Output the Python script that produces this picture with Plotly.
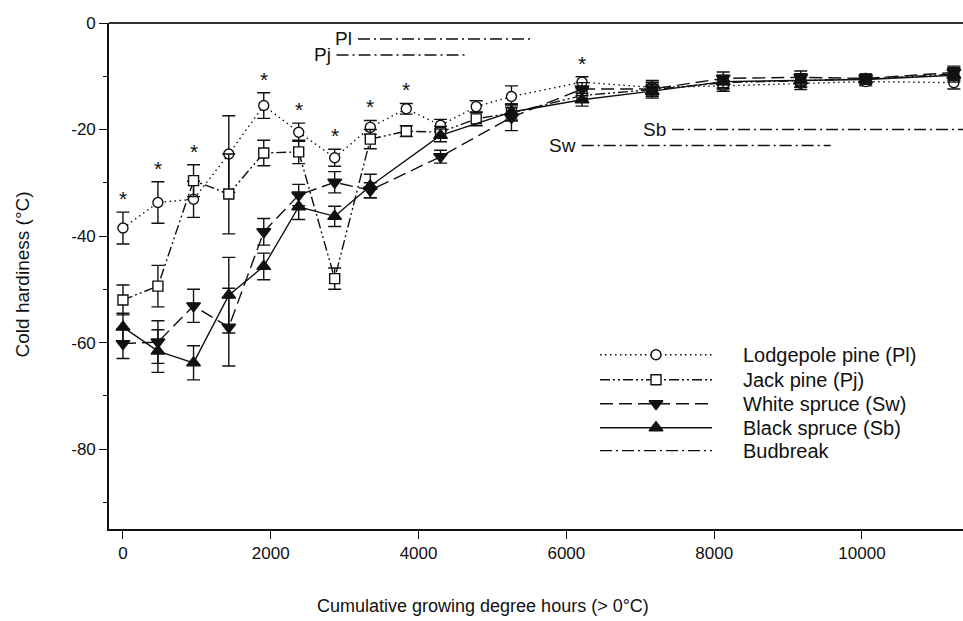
import plotly.graph_objects as go

# Sampling times (cumulative growing degree hours > 0 °C)
gdh_pine = [0, 473, 955, 1432, 1905, 2378, 2865, 3347, 3834, 4297, 4780, 5257,
            6212, 7162, 8122, 9171, 10050, 11243]
gdh_spruce = [0, 473, 955, 1432, 1905, 2378, 2865, 3347, 4297, 5257,
              6212, 7162, 8122, 9171, 10050, 11243]

# Cold hardiness (°C) and standard errors
pl_mean = [-38.5, -33.7, -33.1, -24.6, -15.5, -20.5, -25.3, -19.6, -16.1, -19.2, -15.7, -13.8,
           -11.1, -12.1, -11.8, -11.3, -11.0, -11.2]
pl_se = [3.0, 3.9, 3.4, 7.2, 2.4, 1.7, 1.6, 1.3, 1.0, 1.1, 1.1, 2.0,
         1.0, 1.3, 1.0, 1.2, 0.8, 1.2]
pj_mean = [-52.0, -49.4, -29.6, -32.1, -24.4, -24.2, -48.0, -21.8, -20.3, -20.5, -18.0, -16.9,
           -13.6, -12.5, -11.2, -10.8, -10.5, -9.6]
pj_se = [2.8, 3.9, 3.0, 7.5, 2.4, 2.2, 2.0, 1.8, 1.0, 1.1, 1.3, 1.5,
         1.2, 1.3, 1.2, 1.2, 0.8, 1.2]
sw_mean = [-60.2, -59.9, -53.1, -57.1, -39.2, -32.3, -29.9, -31.4, -25.1, -17.7,
           -12.4, -12.4, -10.4, -10.2, -10.4, -9.3]
sw_se = [2.8, 4.0, 3.1, 7.3, 2.5, 2.0, 2.0, 1.4, 1.2, 2.5,
         1.2, 1.3, 1.2, 1.2, 0.8, 1.2]
sb_mean = [-57.1, -61.6, -63.8, -51.1, -45.7, -34.5, -36.3, -30.6, -21.1, -16.7,
           -14.4, -12.8, -11.0, -10.8, -10.6, -9.8]
sb_se = [2.6, 4.0, 3.2, 7.1, 2.5, 2.4, 1.9, 2.2, 1.2, 1.5,
         1.2, 1.3, 1.2, 1.3, 0.9, 1.3]

# Sampling dates with significant species differences (index into gdh_pine)
signif_idx = [0, 1, 2, 4, 5, 6, 7, 8, 12]

# Budbreak periods: label, start, end, level on the hardiness axis
bud_labels = ["Pl", "Pj", "Sb", "Sw"]
bud_start = [3180, 2890, 7430, 6207]
bud_end = [5510, 4650, 12000, 9577]
bud_level = [-3, -6, -20, -23]

x_ticks = [0, 2000, 4000, 6000, 8000, 10000]
x_tick_text = ["0", "2000", "4000", "6000", "8000", "10000"]
y_ticks = [0, -20, -40, -60, -80]
y_tick_text = ["0", "-20", "-40", "-60", "-80"]

FONT = "Arial, Liberation Sans, sans-serif"
INK = "#111111"
LW = 1.4

series = [
    dict(name="Lodgepole pine (Pl)", x=gdh_pine, y=pl_mean, e=pl_se,
         dash="1.5px,3.5px", symbol="circle", fill="white", size=10),
    dict(name="Jack pine (Pj)", x=gdh_pine, y=pj_mean, e=pj_se,
         dash="10px,3px,2px,3px,2px,3px", symbol="square", fill="white", size=10),
    dict(name="White spruce (Sw)", x=gdh_spruce, y=sw_mean, e=sw_se,
         dash="13px,6px", symbol="triangle-down", fill=INK, size=12),
    dict(name="Black spruce (Sb)", x=gdh_spruce, y=sb_mean, e=sb_se,
         dash="solid", symbol="triangle-up", fill=INK, size=12),
]

fig = go.Figure()

# Budbreak bars
for lab, x0, x1, lev in zip(bud_labels, bud_start, bud_end, bud_level):
    fig.add_trace(go.Scatter(
        x=[x0, x1], y=[lev, lev], mode="lines", showlegend=False, hoverinfo="skip",
        line=dict(color=INK, width=LW, dash="12px,4px,2px,4px")))
    fig.add_annotation(x=x0, y=lev, text=lab, showarrow=False, xanchor="right",
                       yanchor="middle", xshift=-4,
                       font=dict(family=FONT, size=19, color=INK))

# Species series with standard error bars
for s in series:
    fig.add_trace(go.Scatter(
        x=s["x"], y=s["y"], mode="lines+markers", name=s["name"], showlegend=False,
        line=dict(color=INK, width=LW, dash=s["dash"]),
        marker=dict(symbol=s["symbol"], size=s["size"], color=s["fill"],
                    line=dict(color=INK, width=LW)),
        error_y=dict(type="data", array=s["e"], visible=True, color=INK,
                     thickness=LW, width=6.5)))

# Significance asterisks above the highest error bar of each flagged date
for i in signif_idx:
    top = max(pl_mean[i] + pl_se[i], pj_mean[i] + pj_se[i])
    if gdh_pine[i] in gdh_spruce:
        j = gdh_spruce.index(gdh_pine[i])
        top = max(top, sw_mean[j] + sw_se[j], sb_mean[j] + sb_se[j])
    fig.add_annotation(x=gdh_pine[i], y=top, text="*", showarrow=False,
                       xanchor="center", yanchor="bottom", yshift=0,
                       font=dict(family=FONT, size=21, color=INK))

# Legend drawn on an overlay axis spanning the plot area (0..1 in both directions)
PL, PR, PT, PB = 109, 963, 22.6, 529.5
fx = lambda px: (px - PL) / (PR - PL)
fy = lambda py: (PB - py) / (PB - PT)
legend_rows = [355, 380, 404, 428, 451]
legend_items = series + [dict(name="Budbreak", dash="12px,4px,2px,4px", symbol=None)]
for row, s in zip(legend_rows, legend_items):
    fig.add_trace(go.Scatter(
        x=[fx(600), fx(712)], y=[fy(row), fy(row)], mode="lines", xaxis="x2", yaxis="y2",
        showlegend=False, hoverinfo="skip",
        line=dict(color=INK, width=LW, dash=s["dash"])))
    if s["symbol"]:
        fig.add_trace(go.Scatter(
            x=[fx(656)], y=[fy(row)], mode="markers", xaxis="x2", yaxis="y2",
            showlegend=False, hoverinfo="skip",
            marker=dict(symbol=s["symbol"], size=s["size"], color=s["fill"],
                        line=dict(color=INK, width=LW))))
    fig.add_annotation(x=fx(741), y=fy(row), xref="x2", yref="y2", text=s["name"],
                       showarrow=False, xanchor="left", yanchor="middle",
                       font=dict(family=FONT, size=20, color=INK))

# Axis titles
fig.add_annotation(x=fx(483), y=fy(607), xref="paper", yref="paper",
                   text="Cumulative growing degree hours (> 0°C)", showarrow=False,
                   xanchor="center", yanchor="middle",
                   font=dict(family=FONT, size=18, color=INK))
fig.add_annotation(x=fx(22), y=fy(274.5), xref="paper", yref="paper",
                   text="Cold hardiness (°C)", showarrow=False, textangle=-90,
                   xanchor="center", yanchor="middle",
                   font=dict(family=FONT, size=19, color=INK))

# Top frame line
fig.add_shape(type="line", xref="paper", yref="paper", x0=0, x1=1, y0=1, y1=1,
              line=dict(color="#333333", width=2))

fig.update_layout(
    width=963, height=621,
    margin=dict(l=PL, r=0, t=PT, b=621 - PB, pad=0),
    paper_bgcolor="white", plot_bgcolor="white",
    font=dict(family=FONT, size=17, color=INK),
    showlegend=False,
    xaxis=dict(range=[-189, 11367], tickvals=x_ticks, ticktext=x_tick_text,
               ticks="outside", ticklen=8,
               tickwidth=LW, tickcolor=INK, showline=True, linecolor=INK, linewidth=1.6,
               showgrid=False, zeroline=False, tickfont=dict(size=17)),
    yaxis=dict(range=[-95, 0], tickvals=y_ticks, ticktext=y_tick_text,
               ticks="outside", ticklen=8,
               tickwidth=LW, tickcolor=INK, showline=True, linecolor=INK, linewidth=1.6,
               showgrid=False, zeroline=False, tickfont=dict(size=17),
               minor=dict(tickvals=[-10, -30, -50, -70, -90], ticks="outside",
                          ticklen=4, tickwidth=LW, tickcolor=INK)),
    xaxis2=dict(overlaying="x", range=[0, 1], visible=False),
    yaxis2=dict(overlaying="y", range=[0, 1], visible=False),
)

fig.write_html("out.html")
